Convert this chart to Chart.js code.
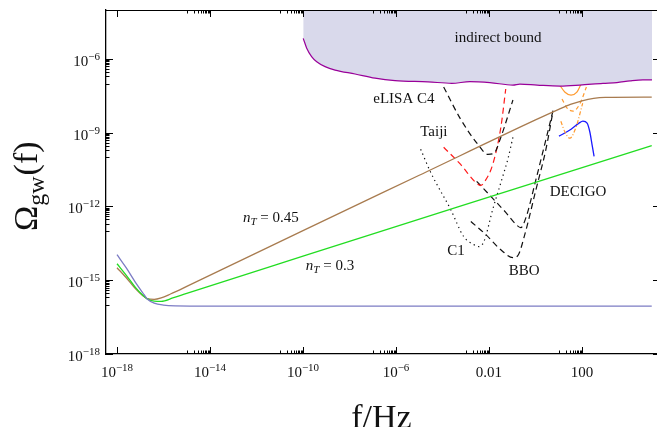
<!DOCTYPE html>
<html>
<head>
<meta charset="utf-8">
<script src="https://cdn.jsdelivr.net/npm/chart.js@4.4.1/dist/chart.umd.min.js"></script>
<style>html,body{margin:0;padding:0;background:#fff}</style>
</head>
<body>
<canvas id="c" width="657" height="427"></canvas>
<script>
// all values are log10 exponents
const xTickExps = [-18, -14, -10, -6, -2, 2];
const xTickPlain = { '-2': '0.01', '2': '100' };   // ticks written without powers of ten
const yTickExps = [-18, -15, -12, -9, -6];

// n_T = 0.45
const brownF     = [-18, -17.6, -17.2, -16.9, -16.7, -16.4, -16.1, -15.7, -15, -10, -5, 0, 1, 1.5, 2, 2.5, 3, 5];
const brownOmega = [-14.49, -14.9, -15.35, -15.62, -15.75, -15.78, -15.72, -15.56, -15.25, -12.98, -10.73, -8.48, -8.05, -7.85, -7.7, -7.6, -7.56, -7.55];
// n_T = 0.3
const greenF     = [-18, -17.6, -17.2, -16.9, -16.7, -16.4, -16.1, -15.6, -15, -10, 0, 5];
const greenOmega = [-14.33, -14.8, -15.3, -15.6, -15.76, -15.85, -15.86, -15.72, -15.53, -14.02, -11.02, -9.52];
// flat spectrum
const flatF      = [-18, -17.6, -17.2, -16.9, -16.7, -16.4, -16, -15.5, -14, 5];
const flatOmega  = [-13.96, -14.5, -15.1, -15.5, -15.76, -15.93, -16.01, -16.04, -16.05, -16.05];

// indirect bound
const boundF     = [-9.99, -9.84, -9.63, -9.41, -9.05, -8.62, -7.76, -6.9, -6.04, -4.62, -3.6, -2.82, -1.96, -0.97, -0.67, 0.07, 1.05, 1.91, 2.9, 3.5, 4.07, 4.62, 5.01];
const boundOmega = [-5.16, -5.56, -5.9, -6.11, -6.31, -6.45, -6.61, -6.78, -6.88, -6.93, -6.99, -6.92, -6.96, -7.06, -7.02, -7.06, -7.1, -7.06, -6.99, -6.96, -6.89, -6.85, -6.85];

// detector curves
const elisaF     = [-3.95, -3.22, -2.48, -2.05, -1.79, -1.49, -0.97];
const elisaOmega = [-7.14, -8.45, -9.47, -9.88, -9.84, -9.18, -7.67];
const taijiF     = [-3.95, -3.22, -2.57, -2.35, -2.18, -1.84, -1.49, -1.28];
const taijiOmega = [-9.59, -10.29, -11.02, -11.14, -10.98, -10.29, -8.78, -7.22];
const c1F        = [-4.94, -4.51, -3.65, -3.09, -2.66, -2.44, -2.22, -1.84, -1.41, -1.19, -0.97];
const c1Omega    = [-9.67, -10.61, -12.12, -13.22, -13.55, -13.63, -13.43, -12.12, -10.78, -10.08, -9.18];
const decigoF     = [-2.53, -1.92, -1.28, -0.84, -0.63, -0.41, 0.02, 0.45, 0.79];
const decigoOmega = [-10.98, -11.59, -12.24, -12.73, -12.86, -12.45, -10.9, -9.27, -7.96];
const bboF       = [-2.78, -2.14, -1.49, -0.97, -0.76, -0.45, 0.02, 0.45, 0.72];
const bboOmega   = [-12.61, -13.14, -13.76, -14.08, -14.0, -13.1, -11.31, -9.67, -8.3];

// ground based (orange) and small blue curve
const ligoAF     = [1.01, 1.27, 1.53, 1.78, 1.96];
const ligoAOmega = [-7.02, -7.35, -7.47, -7.35, -7.02];
const ligoBF     = [1.14, 1.36, 1.62, 1.92, 2.19];
const ligoBOmega = [-7.63, -8.0, -8.12, -7.8, -7.14];
const ligoCF     = [1.09, 1.27, 1.48, 1.74, 2.03];
const ligoCOmega = [-8.53, -8.98, -9.22, -8.78, -7.8];
const peakF      = [1.01, 1.53, 1.87, 2.04, 2.22, 2.34, 2.43, 2.52];
const peakOmega  = [-9.14, -8.86, -8.61, -8.53, -8.61, -8.98, -9.47, -9.96];

// text labels: [text, log f, log Omega]
const notes = [
  ['indirect bound', -1.61, -5.14],
  ['eLISA C4', -5.66, -7.63],
  ['Taiji', -4.37, -8.97],
  ['DECIGO', 1.83, -11.41],
  ['C1', -3.42, -13.81],
  ['BBO', -0.49, -14.62]
];
const nTNotes = [['0.45', -11.38, -12.47], ['0.3', -8.84, -14.42]];

const SERIF = '"Liberation Serif", "DejaVu Serif", serif';
const pts = (fs, os) => fs.map((f, i) => ({ x: 10 ** f, y: 10 ** os[i] }));

function line(fs, os, color, dash, w) {
  return {
    data: pts(fs, os),
    showLine: true,
    borderColor: color,
    borderWidth: w || 1.2,
    borderDash: dash || [],
    pointRadius: 0,
    fill: false,
    cubicInterpolationMode: 'monotone'
  };
}

// "10" with a raised exponent, drawn at (x, y) with the given alignment
function drawPow(ctx, e, x, y, align) {
  const base = '10', sup = '\u2212' + Math.abs(e);
  ctx.font = '15px ' + SERIF;
  const wb = ctx.measureText(base).width;
  ctx.font = '11px ' + SERIF;
  const ws = ctx.measureText(sup).width;
  const w = wb + ws;
  const sx = align === 'right' ? x - w : x - w / 2;
  ctx.textAlign = 'left';
  ctx.font = '15px ' + SERIF;
  ctx.fillText(base, sx, y);
  ctx.font = '11px ' + SERIF;
  ctx.fillText(sup, sx + wb, y - 6);
}

// inward tick marks, top frame line, tick labels, y title, text notes
const decor = {
  id: 'decor',
  afterDraw(chart) {
    const { ctx, chartArea: a, scales: { x, y } } = chart;
    ctx.save();
    ctx.strokeStyle = '#000';
    ctx.lineWidth = 1;
    ctx.beginPath();
    ctx.moveTo(a.left, a.top + 0.5);
    ctx.lineTo(a.right, a.top + 0.5);
    xTickExps.forEach((e, i) => {
      const px = Math.round(x.getPixelForValue(10 ** e)) + 0.5;
      ctx.moveTo(px, a.bottom); ctx.lineTo(px, a.bottom - 7);
      ctx.moveTo(px, a.top); ctx.lineTo(px, a.top + 7);
      if (i === 0) return;
      for (let k = 1; k < 10; k++) {
        const m = Math.round(x.getPixelForValue(k * 10 ** (e - 1))) + 0.5;
        ctx.moveTo(m, a.bottom); ctx.lineTo(m, a.bottom - 3.5);
        ctx.moveTo(m, a.top); ctx.lineTo(m, a.top + 3.5);
      }
    });
    yTickExps.forEach((e, i) => {
      const py = Math.round(y.getPixelForValue(10 ** e)) + 0.5;
      ctx.moveTo(a.left, py); ctx.lineTo(a.left + 7, py);
      ctx.moveTo(a.right, py); ctx.lineTo(a.right - 4, py);
      if (i === 0) return;
      for (let k = 1; k < 10; k++) {
        const m = Math.round(y.getPixelForValue(k * 10 ** (e - 1))) + 0.5;
        ctx.moveTo(a.left, m); ctx.lineTo(a.left + 3.5, m);
      }
    });
    ctx.stroke();

    // tick labels
    ctx.fillStyle = '#111';
    ctx.textBaseline = 'alphabetic';
    xTickExps.forEach(e => {
      const px = x.getPixelForValue(10 ** e);
      if (xTickPlain[e]) {
        ctx.font = '15px ' + SERIF;
        ctx.textAlign = 'center';
        ctx.fillText(xTickPlain[e], px, a.bottom + 23);
      } else {
        drawPow(ctx, e, px, a.bottom + 23, 'center');
      }
    });
    yTickExps.forEach(e => {
      drawPow(ctx, e, a.left - 6, y.getPixelForValue(10 ** e) + 7, 'right');
    });

    // y axis title
    ctx.translate(37, 231);
    ctx.rotate(-Math.PI / 2);
    ctx.textAlign = 'left';
    ctx.font = '34px ' + SERIF;
    ctx.fillText('Ω', 0, 0);
    let off = ctx.measureText('Ω').width;
    ctx.font = '24px ' + SERIF;
    ctx.fillText('gw', off, 7);
    off += ctx.measureText('gw').width + 1;
    ctx.font = '34px ' + SERIF;
    ctx.fillText('(f)', off, 0);
    ctx.restore();

    ctx.save();
    ctx.fillStyle = '#111';
    ctx.textBaseline = 'middle';
    ctx.textAlign = 'center';
    ctx.font = '15px ' + SERIF;
    notes.forEach(([t, f, o]) => {
      ctx.fillText(t, x.getPixelForValue(10 ** f), y.getPixelForValue(10 ** o));
    });
    ctx.textAlign = 'left';
    nTNotes.forEach(([v, f, o]) => {
      const cx = x.getPixelForValue(10 ** f), cy = y.getPixelForValue(10 ** o);
      ctx.font = 'italic 15px ' + SERIF;
      const wn = ctx.measureText('n').width;
      ctx.font = 'italic 11px ' + SERIF;
      const wt = ctx.measureText('T').width;
      ctx.font = '15px ' + SERIF;
      const rest = ' = ' + v;
      const wr = ctx.measureText(rest).width;
      const sx = cx - (wn + wt + wr) / 2;
      ctx.font = 'italic 15px ' + SERIF;
      ctx.fillText('n', sx, cy);
      ctx.font = 'italic 11px ' + SERIF;
      ctx.fillText('T', sx + wn, cy + 4);
      ctx.font = '15px ' + SERIF;
      ctx.fillText(rest, sx + wn + wt, cy);
    });
    ctx.restore();
  }
};

const bound = line(boundF, boundOmega, '#990099', [], 1.2);
bound.fill = 'end';
bound.backgroundColor = '#d9d9eb';

new Chart(document.getElementById('c'), {
  type: 'scatter',
  data: {
    datasets: [
      bound,
      line(flatF, flatOmega, '#7c7cc4', [], 1.3),
      line(greenF, greenOmega, '#22dd22', [], 1.3),
      line(brownF, brownOmega, '#a87b4f', [], 1.3),
      line(elisaF, elisaOmega, '#111', [6, 4]),
      line(taijiF, taijiOmega, '#ff1a1a', [6, 4]),
      line(c1F, c1Omega, '#111', [1.3, 3.5]),
      line(decigoF, decigoOmega, '#111', [6, 4]),
      line(bboF, bboOmega, '#111', [6, 4]),
      line(ligoAF, ligoAOmega, '#ff9a2e', []),
      line(ligoBF, ligoBOmega, '#ff9a2e', [4, 3]),
      line(ligoCF, ligoCOmega, '#ff9a2e', [4, 2, 1, 2]),
      line(peakF, peakOmega, '#1a1aff', [], 1.3)
    ]
  },
  options: {
    responsive: false,
    animation: false,
    devicePixelRatio: 1,
    layout: { padding: { top: 10, left: 0, right: 0, bottom: 0 } },
    plugins: { legend: { display: false }, tooltip: { enabled: false } },
    scales: {
      x: {
        type: 'logarithmic',
        min: 10 ** -18.473,
        max: 10 ** 5.226,
        afterBuildTicks: s => { s.ticks = xTickExps.map(e => ({ value: 10 ** e })); },
        afterFit: s => { s.height = 73; },
        grid: { display: false, drawTicks: false },
        border: { display: true, color: '#000', width: 1.3 },
        ticks: { display: false },
        title: {
          display: true, text: 'f/Hz', color: '#111',
          font: { family: SERIF, size: 34, lineHeight: 0.8 },
          padding: { top: 0, bottom: -6 }
        }
      },
      y: {
        type: 'logarithmic',
        min: 1e-18,
        max: 10 ** -4.007,
        afterBuildTicks: s => { s.ticks = yTickExps.map(e => ({ value: 10 ** e })); },
        afterFit: s => { s.width = 106; },
        grid: { display: false, drawTicks: false },
        border: { display: true, color: '#000', width: 1.3 },
        ticks: { display: false }
      }
    }
  },
  plugins: [decor]
});
</script>
</body>
</html>
